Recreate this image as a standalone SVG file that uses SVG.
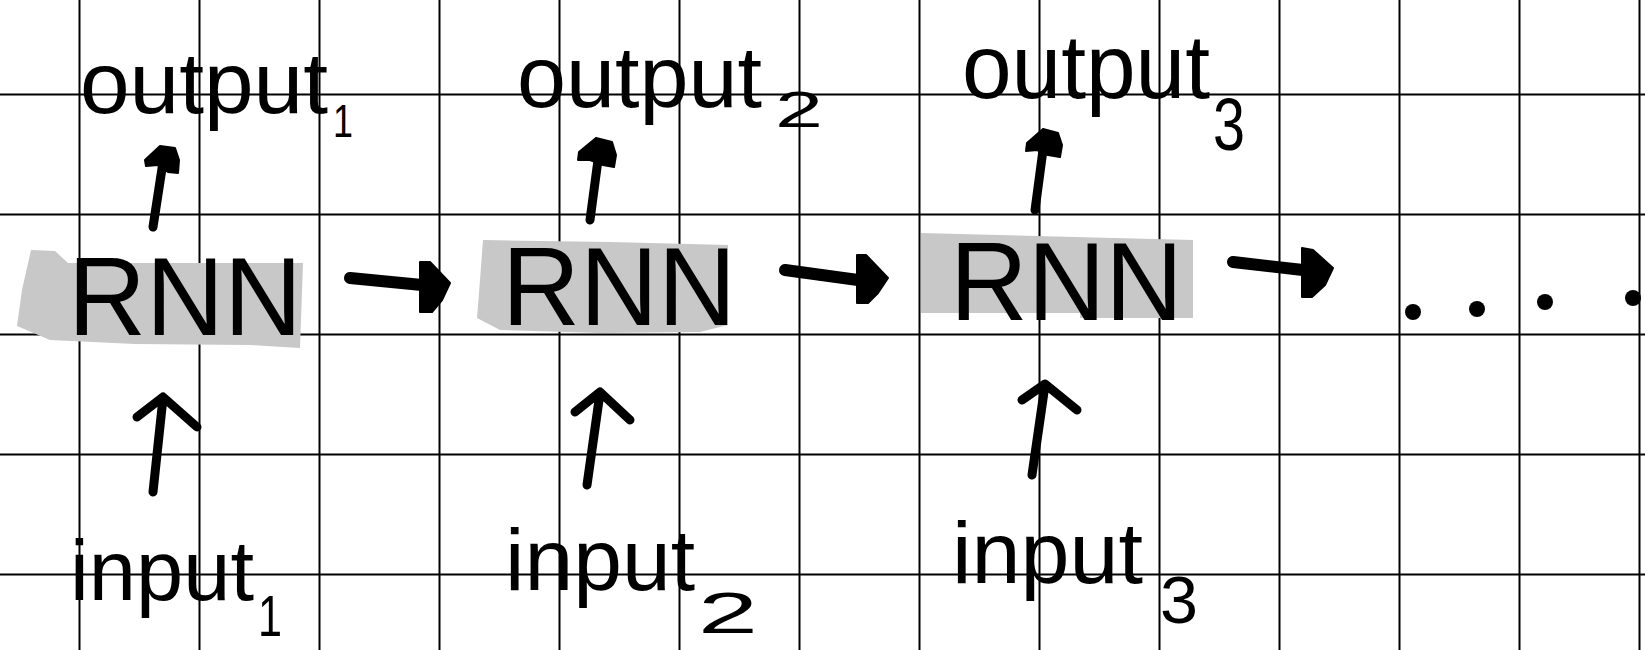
<svg xmlns="http://www.w3.org/2000/svg" width="1645" height="650" viewBox="0 0 1645 650">
<style>
.grid line{stroke:#000;stroke-width:2}
.box{fill:#c8c8c8}
.hand{font-family:"Liberation Sans",Arial,sans-serif;fill:#000}
.ln{stroke:#000;stroke-width:9;stroke-linecap:round;stroke-linejoin:round;fill:none}
.hl{stroke:#000;stroke-width:12;stroke-linecap:round;fill:none}
.head{fill:#000;stroke:#000;stroke-width:2;stroke-linejoin:round}
</style>
<rect width="1645" height="650" fill="#fff"/>
<g class="grid">
<line x1="79.5" y1="0" x2="79.5" y2="650"/><line x1="199.5" y1="0" x2="199.5" y2="650"/><line x1="319.5" y1="0" x2="319.5" y2="650"/><line x1="439.5" y1="0" x2="439.5" y2="650"/><line x1="559.5" y1="0" x2="559.5" y2="650"/><line x1="679.5" y1="0" x2="679.5" y2="650"/><line x1="799.5" y1="0" x2="799.5" y2="650"/><line x1="919.5" y1="0" x2="919.5" y2="650"/><line x1="1039.5" y1="0" x2="1039.5" y2="650"/><line x1="1159.5" y1="0" x2="1159.5" y2="650"/><line x1="1279.5" y1="0" x2="1279.5" y2="650"/><line x1="1399.5" y1="0" x2="1399.5" y2="650"/><line x1="1519.5" y1="0" x2="1519.5" y2="650"/><line x1="1639.5" y1="0" x2="1639.5" y2="650"/>
<line x1="0" y1="94.5" x2="1645" y2="94.5"/><line x1="0" y1="214.5" x2="1645" y2="214.5"/><line x1="0" y1="334.5" x2="1645" y2="334.5"/><line x1="0" y1="454.5" x2="1645" y2="454.5"/><line x1="0" y1="574.5" x2="1645" y2="574.5"/>
</g>
<g id="rnn1">
<polygon class="box" points="31,250 55,251 68,263 303,263 300,348 250,345 135,344 50,340 17,326 22,290"/>
<text class="hand" x="68" y="335" font-size="112" textLength="234" lengthAdjust="spacingAndGlyphs">RNN</text>
</g>
<g id="rnn2">
<polygon class="box" points="483,240 610,242 728,245 728,325 700,332 600,333 500,330 477,318 480,280"/>
<text class="hand" x="502" y="325" font-size="112" textLength="234" lengthAdjust="spacingAndGlyphs">RNN</text>
</g>
<g id="rnn3">
<polygon class="box" points="921,233 1193,240 1193,318 1080,318 1080,313 921,313"/>
<text class="hand" x="950" y="320" font-size="112" textLength="233" lengthAdjust="spacingAndGlyphs">RNN</text>
</g>
<g id="output1">
<text class="hand" x="80" y="113" font-size="87" textLength="248" lengthAdjust="spacingAndGlyphs">output</text>
<text class="hand" x="333" y="137" font-size="46" textLength="20" lengthAdjust="spacingAndGlyphs">1</text>
</g>
<g id="output2">
<text class="hand" x="517" y="107" font-size="87" textLength="245" lengthAdjust="spacingAndGlyphs">output</text>
<text class="hand" x="775" y="127" font-size="50" textLength="48" lengthAdjust="spacingAndGlyphs">2</text>
</g>
<g id="output3">
<text class="hand" x="962" y="98" font-size="90" textLength="248" lengthAdjust="spacingAndGlyphs">output</text>
<text class="hand" x="1213" y="150" font-size="74" textLength="32" lengthAdjust="spacingAndGlyphs">3</text>
</g>
<g id="input1">
<text class="hand" x="70" y="600" font-size="86" textLength="184" lengthAdjust="spacingAndGlyphs">input</text>
<text class="hand" x="258" y="636" font-size="58" textLength="24" lengthAdjust="spacingAndGlyphs">1</text>
</g>
<g id="input2">
<text class="hand" x="505" y="590" font-size="88" textLength="190" lengthAdjust="spacingAndGlyphs">input</text>
<text class="hand" x="698" y="633" font-size="57" textLength="60" lengthAdjust="spacingAndGlyphs">2</text>
</g>
<g id="input3">
<text class="hand" x="952" y="583" font-size="88" textLength="191" lengthAdjust="spacingAndGlyphs">input</text>
<text class="hand" x="1160" y="623" font-size="67" textLength="38" lengthAdjust="spacingAndGlyphs">3</text>
</g>
<g id="ellipsis">
<circle cx="1413" cy="312" r="8"/><circle cx="1477" cy="309" r="8"/><circle cx="1545" cy="302" r="8"/><circle cx="1633" cy="298" r="8"/>
</g>
<g id="connectors">
<path class="ln" d="M153,492 L163,398 M137,417 L163,397 L197,427"/>
<path class="ln" d="M587,485 L600,393 M575,412 L600,392 L630,420"/>
<path class="ln" d="M1032,475 L1045,385 M1022,400 L1045,384 L1077,410"/>
<path class="ln" d="M153,227 L163,162"/>
<polygon class="head" points="145,160 160,146 175,148 179,160 178,173 168,172 158,165 146,166"/>
<path class="ln" d="M590,220 L598,160"/>
<polygon class="head" points="579,152 596,138 612,142 616,155 614,167 603,165 590,160 578,160"/>
<path class="ln" d="M1035,210 L1043,150"/>
<polygon class="head" points="1027,143 1043,129 1058,133 1062,145 1060,157 1048,155 1037,150 1026,151"/>
<path class="hl" d="M350,278 L422,285"/>
<polygon class="head" points="420,262 430,262 450,283 442,300 432,312 420,312"/>
<path class="hl" d="M785,270 L858,280"/>
<polygon class="head" points="857,255 866,255 888,278 878,293 868,303 857,303"/>
<path class="hl" d="M1233,262 L1303,270"/>
<polygon class="head" points="1302,248 1313,250 1333,268 1325,285 1312,297 1302,297"/>
</g>
</svg>
